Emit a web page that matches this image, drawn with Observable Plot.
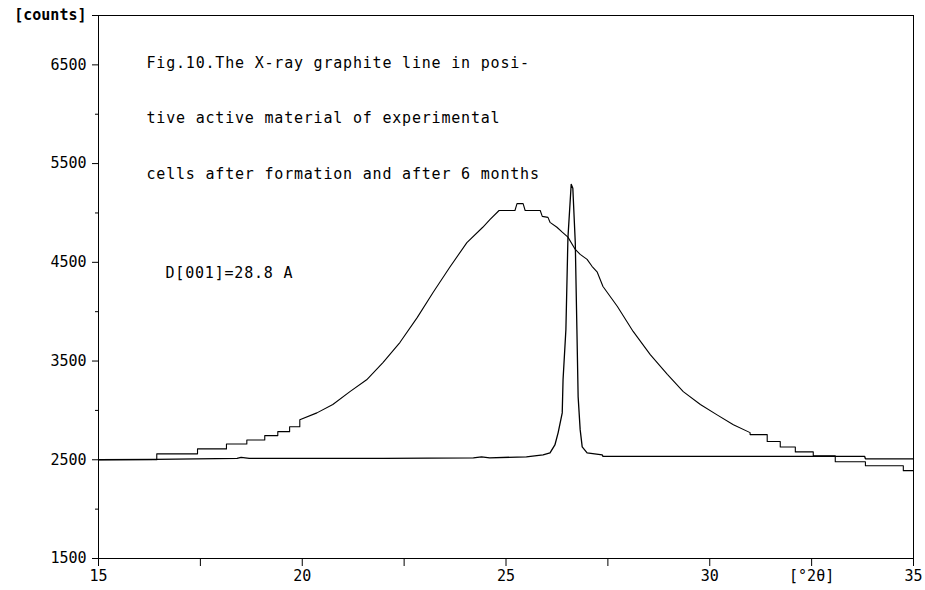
<!DOCTYPE html>
<html><head><meta charset="utf-8">
<script src="https://cdn.jsdelivr.net/npm/d3@7"></script>
<script src="https://cdn.jsdelivr.net/npm/@observablehq/plot@0.6"></script>
<style>
body{margin:0;background:#fff}
</style></head><body><div id="chart"></div>
<script>
// Broad (amorphous) curve
const broadX = [15.00,16.43,16.43,17.43,17.43,18.14,18.14,18.64,18.64,19.08,19.08,19.40,19.40,19.69,19.69,19.94,19.94,
  20.36,20.75,21.17,21.58,21.98,22.40,22.82,23.21,23.62,24.04,24.43,24.61,24.83,25.22,25.27,25.42,25.47,25.84,25.89,
  26.03,26.08,26.25,26.38,26.52,26.70,26.82,26.99,27.11,27.24,27.38,27.73,28.12,28.54,28.96,29.35,29.77,30.18,30.58,
  30.99,30.99,31.41,31.41,31.73,31.73,32.10,32.10,32.54,32.54,33.08,33.08,33.82,33.82,34.75,34.75,35.00];
const broadY = [2500,2500,2560,2560,2610,2610,2660,2660,2700,2700,2745,2745,2785,2785,2835,2835,2905,
  2975,3060,3190,3310,3485,3690,3940,4195,4450,4700,4855,4935,5025,5025,5095,5095,5025,5025,4965,
  4955,4905,4855,4805,4755,4630,4580,4530,4460,4400,4255,4055,3800,3565,3365,3190,3060,2955,2855,
  2775,2755,2755,2685,2685,2630,2630,2580,2580,2540,2540,2480,2480,2440,2440,2390,2390];
// Sharp graphite peak
const peakX = [15.00,16.40,18.40,18.50,18.70,22.00,24.20,24.40,24.60,25.50,25.91,26.08,26.20,26.28,26.38,26.40,26.47,
  26.52,26.60,26.64,26.70,26.74,26.77,26.82,26.87,26.99,27.36,27.38,33.80,33.82,35.00];
const peakY = [2500,2505,2515,2525,2515,2515,2520,2530,2520,2530,2550,2570,2650,2775,2975,3310,3820,
  4750,5290,5250,4700,3820,3140,2805,2630,2570,2550,2535,2535,2510,2510];

const xTicks = [15,17.5,20,22.5,25,27.5,30,32.5,35];
const xTickLabels = ["15","","20","","25","","30","[°2θ]","35"];
const yTicks = [1500,2500,3500,4500,5500,6500,7000];
const yTickLabels = ["1500","2500","3500","4500","5500","6500","[counts]"];
const yMinorTicks = [2000,3000,4000,5000,6000];
const captionLines = ["Fig.10.The X-ray graphite line in posi-","tive active material of experimental","cells after formation and after 6 months"];
const spacingNote = ["D[001]=28.8 A"];

const broad = broadX.map((x, i) => ({x, y: broadY[i]}));
const peak = peakX.map((x, i) => ({x, y: peakY[i]}));

const chart = Plot.plot({
  width: 925, height: 590,
  marginLeft: 98, marginRight: 12, marginTop: 15, marginBottom: 32,
  style: {fontFamily: "DejaVu Sans Mono", fontSize: "15px", color: "black", background: "white"},
  x: {type: "linear", domain: [15, 35]},
  y: {type: "linear", domain: [1500, 7000]},
  marks: [
    Plot.frame({stroke: "black", strokeWidth: 1}),
    Plot.axisY({ticks: yTicks, tickSize: 6, tickPadding: 6, tickFormat: (d) => yTickLabels[yTicks.indexOf(d)], label: null, stroke: "black"}),
    Plot.axisY({ticks: yMinorTicks, tickSize: 3, tickFormat: () => "", label: null, stroke: "black"}),
    Plot.axisX({ticks: xTicks, tickSize: 8, tickPadding: 4, tickFormat: (d) => xTickLabels[xTicks.indexOf(d)], label: null, stroke: "black"}),
    Plot.line(broad, {x: "x", y: "y", stroke: "black", strokeWidth: 1.1}),
    Plot.line(peak, {x: "x", y: "y", stroke: "black", strokeWidth: 1.3}),
    Plot.text([captionLines.join("\n")], {frameAnchor: "top-left", textAnchor: "start", lineAnchor: "top", dx: 48, dy: 13, lineHeight: 3.7, fill: "black"}),
    Plot.text(spacingNote, {frameAnchor: "top-left", textAnchor: "start", lineAnchor: "top", dx: 67, dy: 252, fill: "black"})
  ]
});
document.getElementById("chart").appendChild(chart);
const svg = d3.select(chart);
svg.selectAll("text").filter(function(){ return this.textContent === "[counts]"; }).attr("font-weight", "bold");
svg.selectAll("text").filter(function(){ const t = this.textContent; return t.startsWith("Fig.10") || t.startsWith("D[001]"); }).attr("letter-spacing", "0.8px");
</script></body></html>
